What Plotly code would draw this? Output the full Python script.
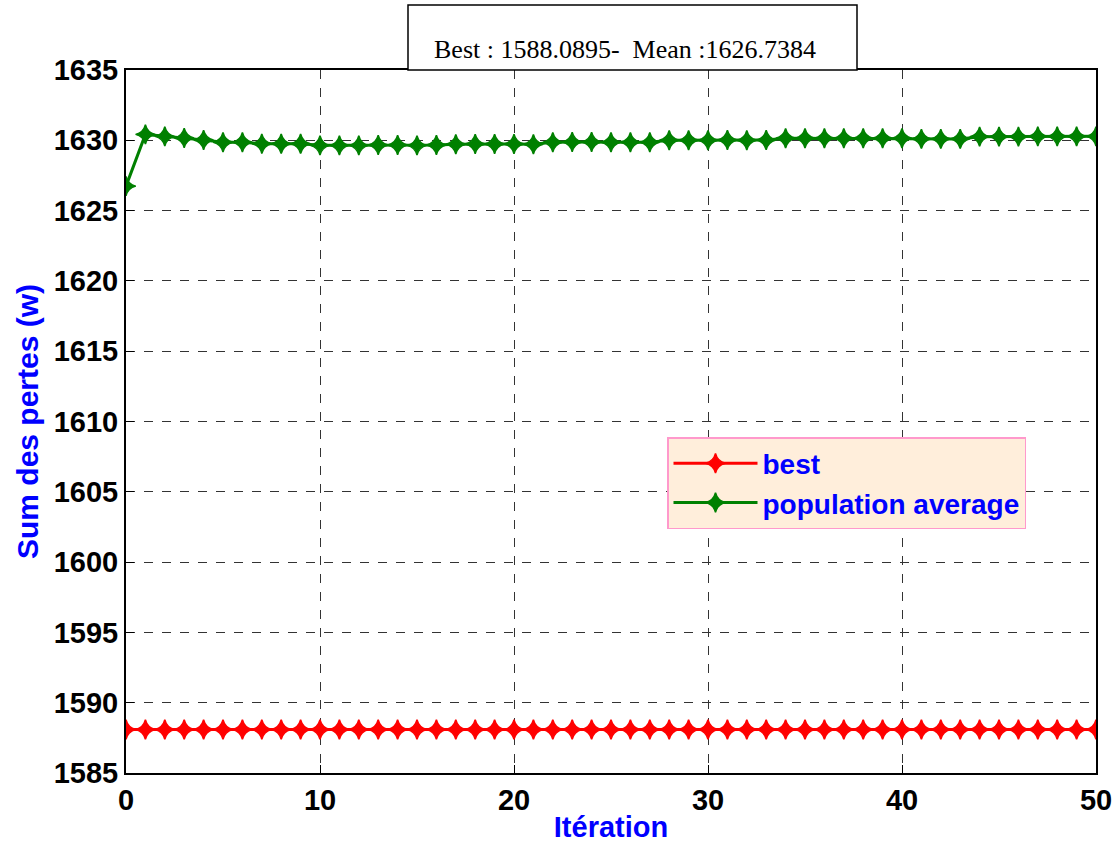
import plotly.graph_objects as go

iterations = list(range(0, 51))
best_values = [1588.0895] * 51
population_average = [
    1626.74, 1630.42, 1630.28, 1630.16, 1630.02, 1629.86, 1629.86, 1629.76, 1629.76, 1629.76,
    1629.64, 1629.64, 1629.64, 1629.66, 1629.66, 1629.64, 1629.66, 1629.72, 1629.74, 1629.74,
    1629.74, 1629.72, 1629.86, 1629.88, 1629.88, 1629.86, 1629.86, 1629.86, 1630.0, 1630.0,
    1630.0, 1630.02, 1630.0, 1630.02, 1630.14, 1630.14, 1630.14, 1630.14, 1630.14, 1630.14,
    1630.14, 1630.1, 1630.1, 1630.1, 1630.26, 1630.26, 1630.26, 1630.28, 1630.28, 1630.28, 1630.28,
]
title_text = "Best : 1588.0895-&nbsp; Mean :1626.7384"

fig = go.Figure()
fig.add_trace(go.Scatter(
    x=iterations, y=best_values, name="best", mode="lines+markers",
    line=dict(color="#FF0000", width=3),
    marker=dict(symbol="star-diamond", size=14, color="#FF0000",
                line=dict(color="#FF0000", width=1.5)),
))
fig.add_trace(go.Scatter(
    x=iterations, y=population_average, name="population average", mode="lines+markers",
    line=dict(color="#008000", width=3),
    marker=dict(symbol="star-diamond", size=14, color="#008000",
                line=dict(color="#008000", width=1.5)),
))

FONT = "Arial, Liberation Sans"
axis_common = dict(
    showline=True, linecolor="black", linewidth=2, mirror=True,
    ticks="inside", ticklen=8, tickcolor="black",
    showgrid=True, gridcolor="#333333", griddash="dash", gridwidth=1,
    zeroline=False, automargin=False,
    tickfont=dict(family=FONT, size=29, color="black", weight="bold"),
)

fig.update_layout(
    width=1117, height=847,
    margin=dict(l=126, r=21, t=70, b=74),
    paper_bgcolor="white", plot_bgcolor="white",
    xaxis=dict(range=[0, 50], dtick=10, **axis_common,
               title=dict(text="Itération", standoff=2,
                          font=dict(family=FONT, size=29, color="#0000FF", weight="bold"))),
    yaxis=dict(range=[1585, 1635], dtick=5, **axis_common,
               title=dict(text="Sum des pertes (w)", standoff=6,
                          font=dict(family=FONT, size=30, color="#0000FF", weight="bold"))),
    legend=dict(
        x=(667 - 126) / 970, y=(773 - 437) / 703, xanchor="left", yanchor="top",
        bgcolor="#FFEEDB", bordercolor="#FF99CC", borderwidth=1.5,
        font=dict(family=FONT, size=28, color="#0000FF", weight="bold"),
        itemwidth=84, tracegroupgap=0,
    ),
    showlegend=True,
)

fig.add_shape(type="rect", xref="paper", yref="paper",
              x0=(408 - 126) / 970, x1=(857 - 126) / 970,
              y0=1.0, y1=(773 - 5) / 703,
              line=dict(color="black", width=1.5), fillcolor="white", layer="above")
fig.add_annotation(xref="paper", yref="paper", x=(625 - 126) / 970, y=(773 - 33) / 703,
                   text=title_text, showarrow=False,
                   font=dict(family="Liberation Serif, Times New Roman", size=26, color="black"))

fig.write_html("out.html", config={"displayModeBar": False},
               post_script="document.body.style.margin='0';document.body.style.overflow='hidden';")
